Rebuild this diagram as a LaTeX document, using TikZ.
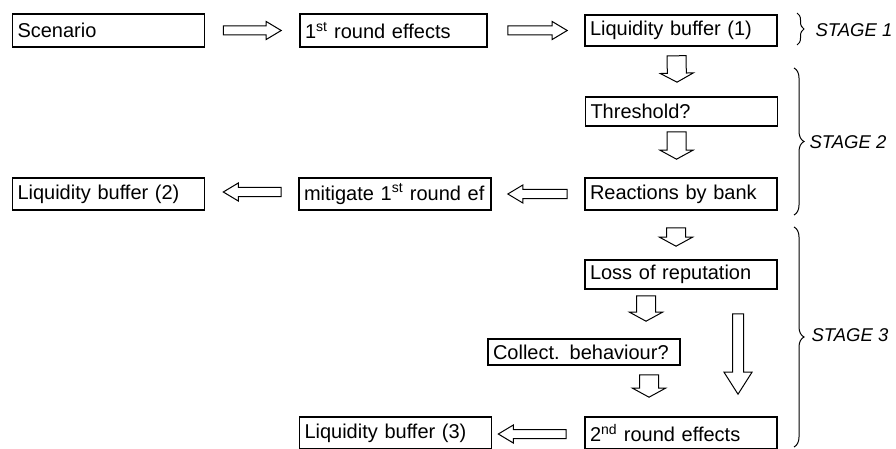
\documentclass[tikz,border=0pt]{standalone}
\usepackage{fontspec}
\setmainfont{Liberation Sans}
\usetikzlibrary{calc,decorations.pathreplacing}

\tikzset{
  box/.style={draw, line width=1.6pt, minimum width=192pt, minimum height=31pt,
    text width=182pt, inner xsep=5pt, inner ysep=0pt, align=left,
    font=\fontsize{20}{24}\selectfont},
  stage/.style={anchor=west, font=\fontsize{18.5}{22}\selectfont\itshape},
  brc/.style={decorate, decoration={brace, amplitude=#1}, line width=1pt},
  arrshaft/.store in=\arrsw, arrhead/.store in=\arrhw, arrlen/.store in=\arrhl,
  arrshaft=4.5pt, arrhead=9pt, arrlen=15pt,
  blockarrow/.style={draw, line width=1pt, line join=miter, to path={
    let \p1=(\tikztostart), \p2=(\tikztotarget), \p3=($(\p2)!\arrhl!(\p1)$) in
    ($(\p1)!\arrsw!90:(\p2)$) -- ($(\p3)!\arrsw!-90:(\p1)$) -- ($(\p3)!\arrhw!-90:(\p1)$)
    -- (\p2) -- ($(\p3)!\arrhw!90:(\p1)$) -- ($(\p3)!\arrsw!90:(\p1)$)
    -- ($(\p1)!\arrsw!-90:(\p2)$) -- cycle}},
  downarrow/.style={blockarrow, arrshaft=9.5pt, arrhead=16.5pt, arrlen=9pt},
  longarrow/.style={blockarrow, arrshaft=5.5pt, arrhead=14pt, arrlen=22pt}
}

\begin{document}
\begin{tikzpicture}[x=1pt,y=-1pt]
  \useasboundingbox (0,0) rectangle (896,449);

  % Boxes
  \node[box, minimum height=33pt] (scen) at (108.5,30.5) {Scenario};
  \node[box, minimum height=33pt, minimum width=187pt, text width=177pt] (first) at (393.5,30.5) {1\textsuperscript{st} round effects};
  \node[box] (lb1) at (681,30.5) {Liquidity buffer (1)};
  \node[box, minimum height=29pt] (thresh) at (681.5,111.5) {Threshold?};
  \node[box, minimum height=32pt] (react) at (681,194) {Reactions by bank};
  \node[box, minimum height=32pt] (mitig) at (395,194) {mitigate 1\textsuperscript{st} round ef};
  \node[box, minimum height=32pt] (lb2) at (108.5,194) {Liquidity buffer (2)};
  \node[box, minimum height=29pt] (loss) at (681,274.5) {Loss of reputation};
  \node[box, minimum height=26pt] (collect) at (584,352) {Collect. behaviour?};
  \node[box, minimum height=32pt] (second) at (681,433) {2\textsuperscript{nd} round effects};
  \node[box, minimum height=32pt] (lb3) at (395.5,433) {Liquidity buffer (3)};

  % Arrows
  \draw[blockarrow] ([shift={(18,0)}]scen.east) to ([shift={(-18,0)}]first.west);
  \draw[blockarrow] ([shift={(20,0)}]first.east) to ([shift={(-17,0)}]lb1.west);
  \draw[downarrow] ([shift={(-4.5,9)}]lb1.south) to ([shift={(-4.5,-14)}]thresh.north);
  \draw[downarrow] ([shift={(-5,5)}]thresh.south) to ([shift={(-4.5,-18)}]react.north);
  \draw[blockarrow] ([shift={(-17,0)}]react.west) to ([shift={(16,0)}]mitig.east);
  \draw[blockarrow] ([shift={(-17,-2)}]mitig.west) to ([shift={(18,-2)}]lb2.east);
  \draw[downarrow] ([shift={(-5,17)}]react.south) to ([shift={(-5,-13)}]loss.north);
  \draw[downarrow] ([shift={(-35,6)}]loss.south) to ([shift={(62,-17)}]collect.north);
  \draw[downarrow] ([shift={(65,9)}]collect.south) to ([shift={(-32,-19)}]second.north);
  \draw[longarrow] ([shift={(57,24)}]loss.south) to ([shift={(57,-22)}]second.north);
  \draw[blockarrow] ([shift={(-18,1)}]second.west) to ([shift={(6,1)}]lb3.east);

  % Stages
  \draw[brc=7pt] (797,13) -- (797,45);
  \draw[brc=10pt] (794,68) -- (794,215);
  \draw[brc=10pt] (794,227) -- (794,447);
  \node[stage] (st1) at (812,30) {STAGE 1};
  \node[stage] (st2) at (806,142) {STAGE 2};
  \node[stage] (st3) at (808,335) {STAGE 3};
\end{tikzpicture}
\end{document}
